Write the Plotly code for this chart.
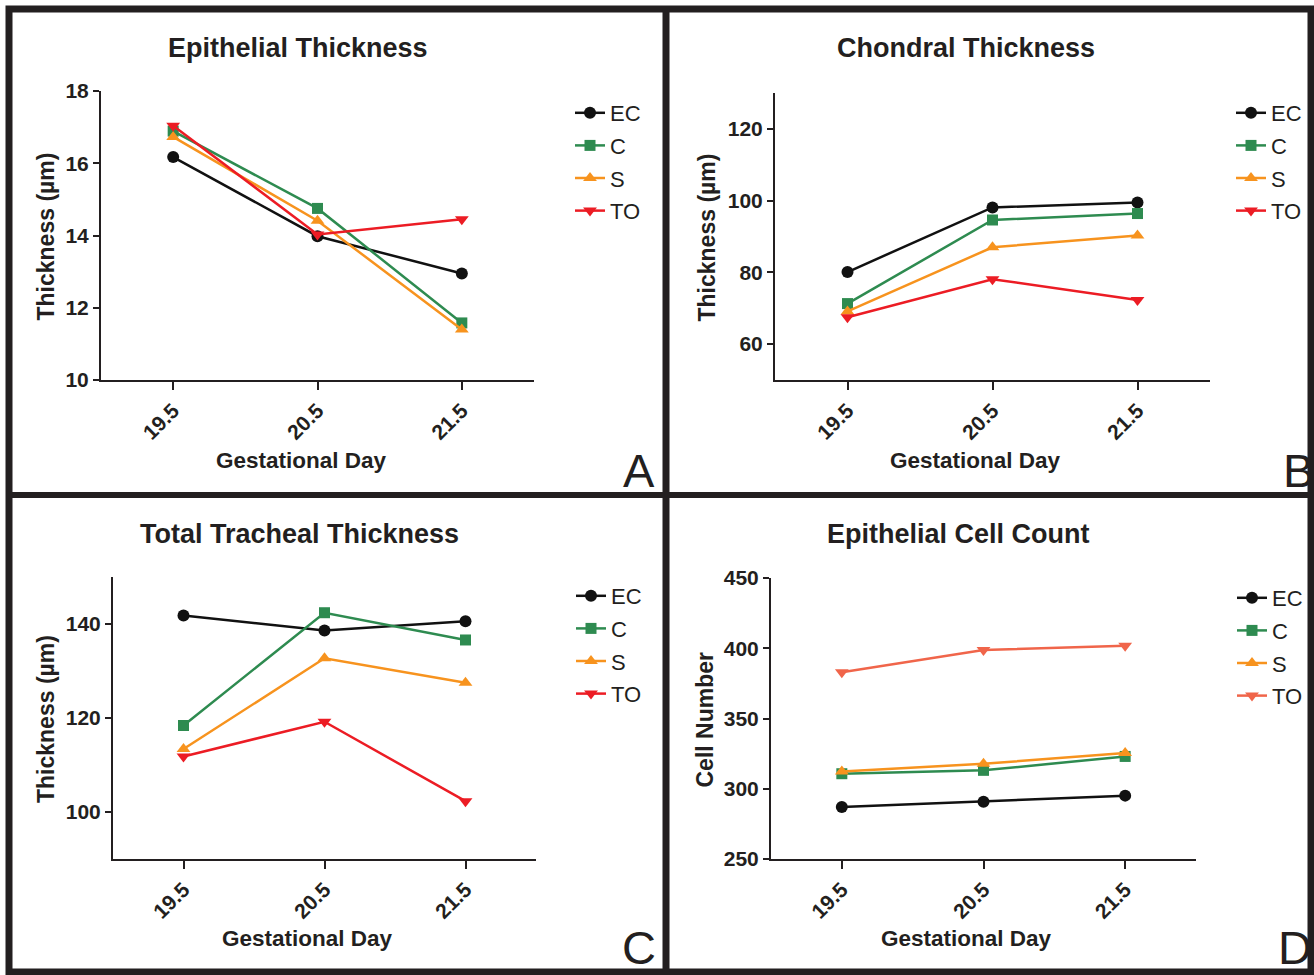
import plotly.graph_objects as go

W, H = 1314, 975

days = [19.5, 20.5, 21.5]
day_ticks = ["19.5", "20.5", "21.5"]
groups = ["EC", "C", "S", "TO"]

# Panel A: Epithelial Thickness (µm)
epi_ec = [16.17, 13.98, 12.95]
epi_c = [16.89, 14.75, 11.58]
epi_s = [16.73, 14.41, 11.40]
epi_to = [17.04, 14.03, 14.45]

# Panel B: Chondral Thickness (µm)
cho_ec = [80.1, 98.1, 99.5]
cho_c = [71.3, 94.6, 96.4]
cho_s = [69.1, 87.0, 90.3]
cho_to = [67.5, 78.1, 72.3]

# Panel C: Total Tracheal Thickness (µm)
tot_ec = [141.8, 138.6, 140.6]
tot_c = [118.4, 142.4, 136.6]
tot_s = [113.4, 132.7, 127.5]
tot_to = [111.8, 119.2, 102.3]

# Panel D: Epithelial Cell Count
cnt_ec = [287.0, 290.8, 295.1]
cnt_c = [310.7, 313.1, 323.0]
cnt_s = [312.2, 317.8, 325.4]
cnt_to = [382.9, 398.8, 401.7]

FONT = "Liberation Sans, Arial, Helvetica, sans-serif"
INK = "#231f20"

def px_x(p):
    return p / W

def px_y(p):
    return 1 - p / H

symbols = {"EC": "circle", "C": "square", "S": "triangle-up", "TO": "triangle-down"}
sizes = {"EC": 12, "C": 11, "S": 12, "TO": 12}
base_colors = {"EC": "#111111", "C": "#2e8b50", "S": "#f7931e", "TO": "#ec1c24"}

panels = [
    dict(key="A", title="Epithelial Thickness", ytitle="Thickness (µm)",
         data=[epi_ec, epi_c, epi_s, epi_to], yrange=[10, 18], tick0=10, dtick=2,
         xpx=[101, 534], ypx=[91, 380], to_color="#ec1c24",
         title_xy=(298, 48), xt_xy=(301, 460), yt_x=46, leg_xy=(570, 92)),
    dict(key="B", title="Chondral Thickness", ytitle="Thickness (µm)",
         data=[cho_ec, cho_c, cho_s, cho_to], yrange=[50, 130], tick0=60, dtick=20,
         xpx=[775, 1210], ypx=[93, 380], to_color="#ec1c24",
         title_xy=(966, 48), xt_xy=(975, 460), yt_x=706, leg_xy=(1231, 92)),
    dict(key="C", title="Total Tracheal Thickness", ytitle="Thickness (µm)",
         data=[tot_ec, tot_c, tot_s, tot_to], yrange=[90, 150], tick0=100, dtick=20,
         xpx=[113, 536], ypx=[577, 859], to_color="#ec1c24",
         title_xy=(299, 534), xt_xy=(307, 938), yt_x=46, leg_xy=(571, 575)),
    dict(key="D", title="Epithelial Cell Count", ytitle="Cell Number",
         data=[cnt_ec, cnt_c, cnt_s, cnt_to], yrange=[250, 450], tick0=250, dtick=50,
         xpx=[771, 1196], ypx=[578, 859], to_color="#f0654a",
         title_xy=(958, 534), xt_xy=(966, 938), yt_x=704, leg_xy=(1232, 577)),
]

fig = go.Figure()
annotations = []
layout = {}

for i, p in enumerate(panels):
    n = "" if i == 0 else str(i + 1)
    xa, ya = "x" + n, "y" + n
    leg = "legend" if i == 0 else "legend" + str(i + 1)
    for g, vals in zip(groups, p["data"]):
        col = p["to_color"] if g == "TO" else base_colors[g]
        fig.add_trace(go.Scatter(
            x=days, y=vals, name=g, mode="lines+markers",
            line=dict(color=col, width=2.5),
            marker=dict(symbol=symbols[g], size=sizes[g], color=col),
            xaxis=xa, yaxis=ya, legend=leg, legendgroup=p["key"] + g,
        ))
    x0, x1 = p["xpx"]
    y0, y1 = p["ypx"]
    axis_common = dict(showline=True, linewidth=2, linecolor=INK, ticks="outside",
                       tickwidth=2, tickcolor=INK, showgrid=False, zeroline=False,
                       automargin=False,
                       tickfont=dict(family=FONT, size=21, color=INK, weight="bold"))
    layout["xaxis" + n] = dict(domain=[px_x(x0), px_x(x1)], range=[19, 22],
                               tickvals=days, ticktext=day_ticks, tickangle=-45,
                               ticklen=8, anchor=ya, fixedrange=True, **axis_common)
    layout["yaxis" + n] = dict(domain=[px_y(y1), px_y(y0)], range=p["yrange"],
                               dtick=p["dtick"], tick0=p["tick0"], ticklen=6,
                               anchor=xa, fixedrange=True, **axis_common)
    lx, ly = p["leg_xy"]
    layout[leg] = dict(x=px_x(lx), y=px_y(ly), xanchor="left", yanchor="top",
                       font=dict(family=FONT, size=22, color=INK),
                       bgcolor="rgba(0,0,0,0)", tracegroupgap=1)
    tx, ty = p["title_xy"]
    annotations.append(dict(text="<b>" + p["title"] + "</b>", x=px_x(tx), y=px_y(ty),
                            xref="paper", yref="paper", showarrow=False,
                            font=dict(family=FONT, size=27, color=INK),
                            xanchor="center", yanchor="middle"))
    gx, gy = p["xt_xy"]
    annotations.append(dict(text="<b>Gestational Day</b>", x=px_x(gx), y=px_y(gy),
                            xref="paper", yref="paper", showarrow=False,
                            font=dict(family=FONT, size=22.5, color=INK),
                            xanchor="center", yanchor="middle"))
    annotations.append(dict(text="<b>" + p["ytitle"] + "</b>", x=px_x(p["yt_x"]), y=px_y((y0 + y1) / 2 + 1),
                            xref="paper", yref="paper", showarrow=False, textangle=-90,
                            font=dict(family=FONT, size=23, color=INK),
                            xanchor="center", yanchor="middle"))

letters = [("A", 639, 470), ("B", 1298, 470), ("C", 639, 947), ("D", 1295, 947)]
for t, lx, ly in letters:
    annotations.append(dict(text=t, x=px_x(lx), y=px_y(ly), xref="paper", yref="paper",
                            showarrow=False, font=dict(family=FONT, size=47, color=INK),
                            xanchor="center", yanchor="middle"))

shapes = [
    dict(type="rect", xref="paper", yref="paper", x0=px_x(9), x1=px_x(1311), y0=px_y(972), y1=px_y(9),
         line=dict(color=INK, width=7), layer="above"),
    dict(type="line", xref="paper", yref="paper", x0=px_x(666), x1=px_x(666), y0=px_y(972), y1=px_y(9),
         line=dict(color=INK, width=7), layer="above"),
    dict(type="line", xref="paper", yref="paper", x0=px_x(9), x1=px_x(1311), y0=px_y(495), y1=px_y(495),
         line=dict(color=INK, width=6), layer="above"),
]

fig.update_layout(
    width=W, height=H, margin=dict(l=0, r=0, t=0, b=0, pad=0, autoexpand=False),
    paper_bgcolor="white", plot_bgcolor="white",
    showlegend=True, annotations=annotations, shapes=shapes,
    font=dict(family=FONT, color=INK),
    **layout,
)

fig.write_html("out.html", config={"displayModeBar": False},
               post_script="document.body.style.margin='0px';document.body.style.overflow='hidden';")
